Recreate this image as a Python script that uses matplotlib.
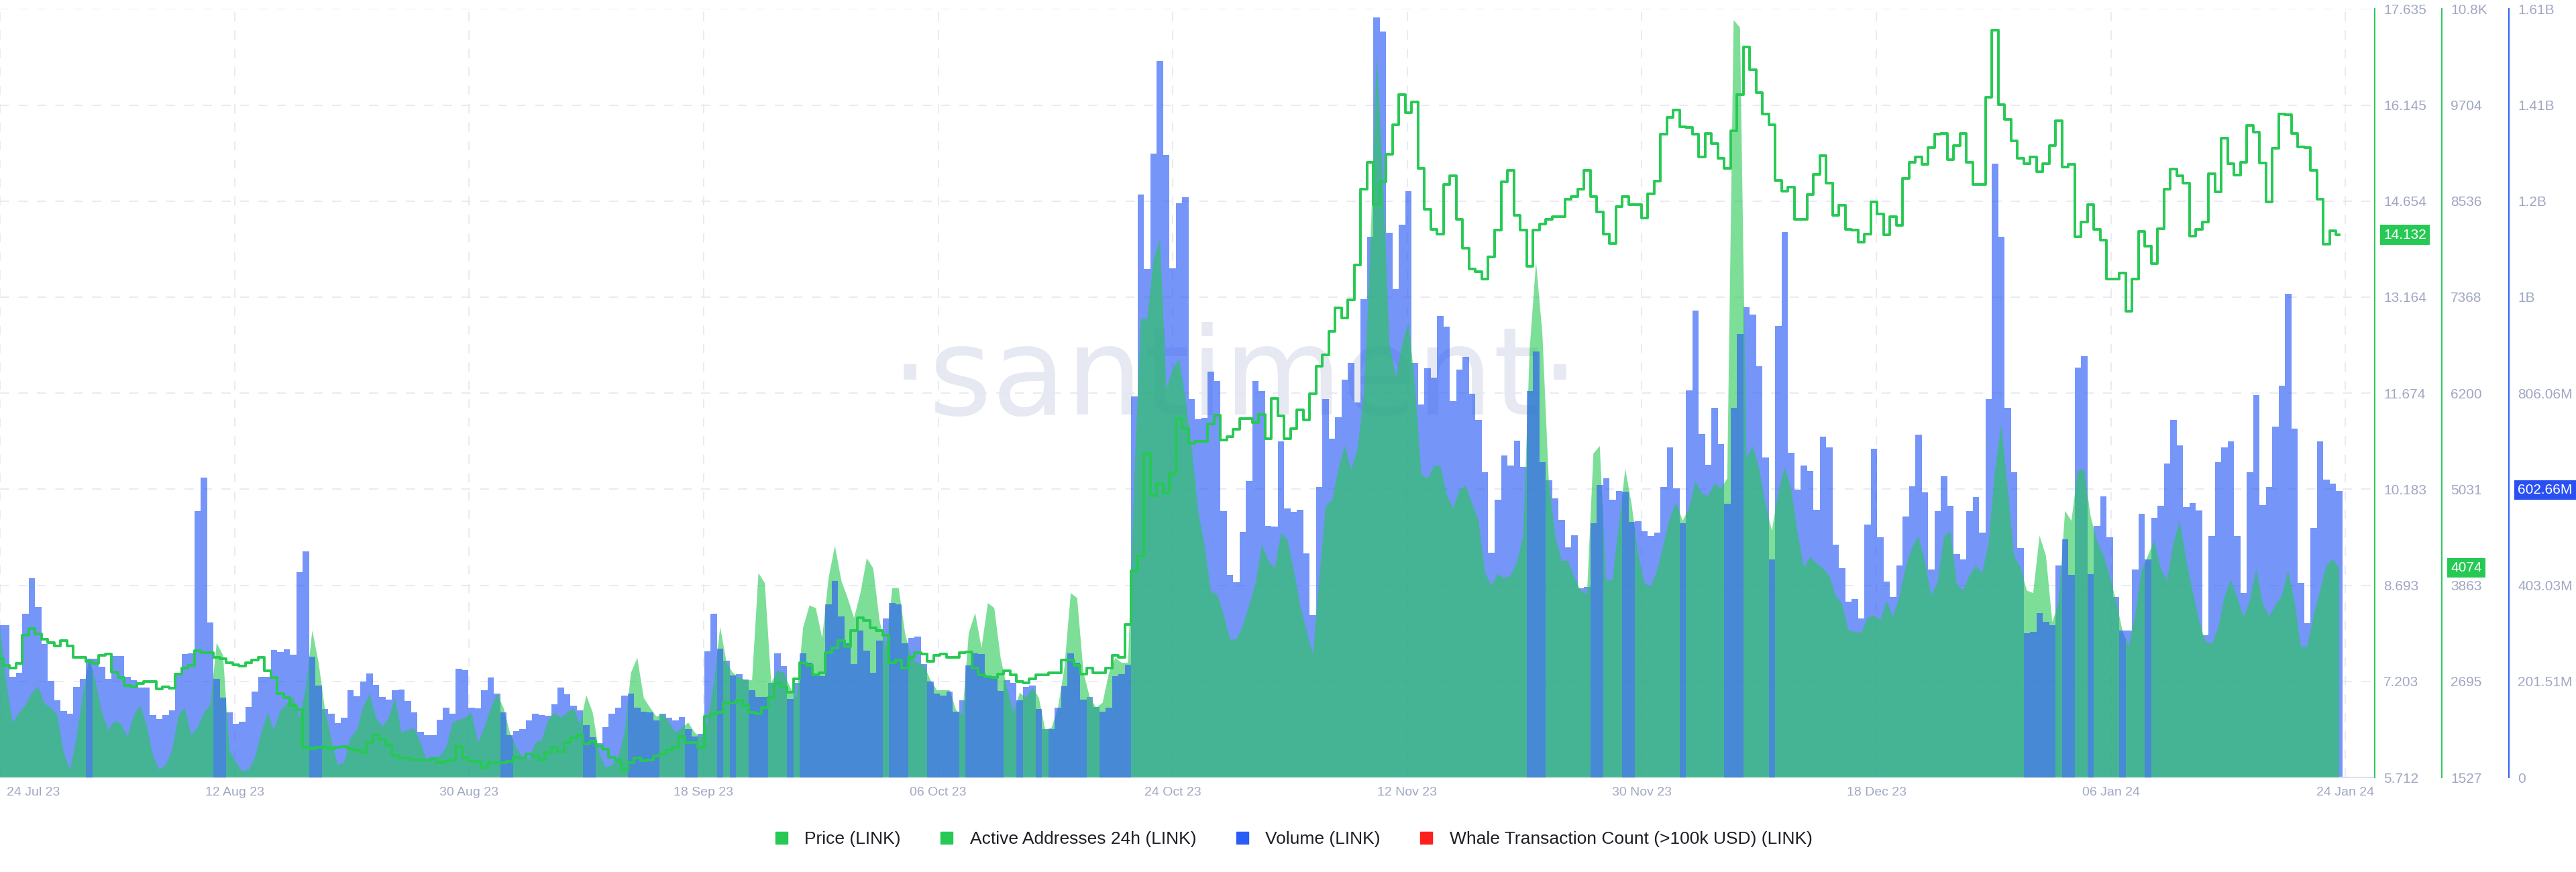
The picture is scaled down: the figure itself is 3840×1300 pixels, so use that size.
import numpy as np
import matplotlib.pyplot as plt
import matplotlib.transforms as mtransforms
from matplotlib.lines import Line2D

plt.rcParams['font.family'] = ['Liberation Sans', 'DejaVu Sans']

GREEN = '#26c953'
BLUE = '#2c5cf6'
RED = '#ff1f1f'
TICK_C = '#a0a8c2'
GRID_C = '#e3e6f0'

# 12h samples, starting 24 Jul 23 00:00
price = [
    7.55, 7.45, 7.41, 7.48, 7.92, 8.02, 7.94, 7.86, 7.80, 7.75, 7.83, 7.75, 7.58, 7.58, 7.51, 7.48,
    7.61, 7.63, 7.35, 7.26, 7.14, 7.12, 7.17, 7.20, 7.20, 7.09, 7.12, 7.10, 7.32, 7.41, 7.45, 7.68,
    7.65, 7.65, 7.57, 7.55, 7.49, 7.46, 7.44, 7.49, 7.53, 7.58, 7.37, 7.26, 7.01, 6.95, 6.83, 6.76,
    6.18, 6.16, 6.18, 6.18, 6.16, 6.18, 6.19, 6.16, 6.14, 6.10, 6.25, 6.37, 6.31, 6.21, 6.06,
    6.01, 6.01, 5.98, 5.98, 5.98, 6.00, 5.94, 5.96, 5.98, 6.19, 6.02, 5.96, 5.96, 5.87, 5.94, 5.94,
    5.94, 5.96, 6.02, 6.01, 6.08, 6.04, 5.98, 6.10, 6.18, 6.11, 6.25, 6.33, 6.37, 6.23, 6.27, 6.20,
    6.15, 6.02, 5.98, 5.83, 5.94, 6.01, 5.97, 5.98, 6.04, 6.08, 6.14, 6.18, 6.35, 6.25, 6.25, 6.18,
    6.66, 6.70, 6.72, 6.87, 6.87, 6.91, 6.83, 6.72, 6.70, 6.79, 6.95, 7.17, 7.12, 7.03,
    7.24, 7.49, 7.45, 7.30, 7.34, 7.65, 7.72, 7.84, 7.74, 7.99, 8.19, 8.15, 8.03, 7.99, 7.92, 7.49,
    7.53, 7.41, 7.57, 7.65, 7.63, 7.51, 7.61, 7.63, 7.58, 7.58, 7.65, 7.66, 7.41, 7.30, 7.27, 7.26,
    7.32, 7.37, 7.30, 7.20, 7.18, 7.24, 7.30, 7.30, 7.34, 7.34, 7.53, 7.53, 7.45, 7.32, 7.41, 7.34,
    7.34, 7.41, 7.61, 7.58, 8.09, 8.92, 9.15, 10.74, 10.08, 10.27, 10.12, 10.43, 11.28, 11.12,
    10.89, 10.93, 10.93, 11.20, 11.33, 10.95, 11.00, 11.11, 11.28, 11.28, 11.22, 11.34, 10.97, 11.59,
    11.32, 10.97, 11.12, 11.42, 11.26, 11.67, 12.09, 12.27, 12.63, 13.00, 12.84, 13.12, 13.66, 14.84,
    15.26, 14.60, 14.95, 15.38, 15.84, 16.31, 16.03, 16.19, 15.16, 14.53, 14.22, 14.14, 14.91, 15.05,
    14.37, 13.92, 13.60, 13.56, 13.44, 13.79, 14.20, 14.95, 15.13, 14.43, 14.20, 13.64, 14.20, 14.30,
    14.37, 14.41, 14.41, 14.68, 14.73, 14.84,
    15.13, 14.72, 14.49, 14.14, 14.00, 14.57, 14.73, 14.60, 14.60, 14.39, 14.77, 14.96, 15.69, 15.95,
    16.07, 15.81, 15.80, 15.69, 15.34, 15.70, 15.55, 15.32, 15.16, 15.75, 16.31, 17.05, 16.69, 16.34,
    16.00, 15.84, 14.98, 14.81, 14.87, 14.37, 14.37, 14.76, 15.07, 15.36, 14.93, 14.43, 14.59, 14.22,
    14.20, 14.02, 14.14, 14.64, 14.45, 14.13, 14.41, 14.28, 15.01, 15.26, 15.34, 15.22, 15.49, 15.69,
    15.70, 15.30, 15.52, 15.70, 15.26, 14.91,
    14.91, 16.27, 17.31, 16.15, 15.92, 15.59, 15.32, 15.24, 15.34, 15.11, 15.24, 15.52, 15.90, 15.18,
    15.22, 14.10, 14.33, 14.60, 14.22, 14.05, 13.44, 13.44, 13.54, 12.95, 13.44, 14.18, 13.95, 13.68,
    14.23, 14.84, 15.15, 15.05, 14.93, 14.11, 14.21, 14.33, 15.08, 14.80, 15.63, 15.24, 15.06, 15.26,
    15.83, 15.72, 15.25, 14.64, 15.47, 16.01, 15.99, 15.70, 15.50, 15.49, 15.13, 14.68, 13.99, 14.19,
    14.13,
]

active_addr = [
    3345, 2678, 2194, 2315, 2406, 2557, 2630, 2424, 2375, 2285, 1830, 1618, 2012, 2527, 2981, 2691,
    2315, 2103, 2212, 2181, 2024, 2285, 2406, 2163, 1800, 1618, 1679, 1860, 2285, 2375, 2042, 2133,
    2315, 2406, 3163, 3012, 1860, 1709, 1606, 1618, 1769, 2072, 2315, 2103, 2345, 2424, 2509, 2254,
    2618, 3315, 2921, 2345, 1982, 1679, 1709, 2012, 2103, 2388, 2545, 2254, 2145, 2254, 2497,
    2072, 2103, 2121, 1951, 1721, 1769, 1782, 1891, 2194, 2224, 2254, 2315, 1951, 2133, 2375, 2545,
    2375, 2072, 1891, 1769, 1739, 1951, 1982, 2224, 2315, 2254, 2315, 2375, 2163, 2527, 2315, 1830,
    1648, 1679, 1769, 2072, 2800, 2981, 2497, 2375, 2266, 2303, 2194, 2072, 2133, 2194, 2072, 2012,
    2194, 2678, 3357, 2921, 2800, 2739, 2709, 2709, 4012, 3890, 2678, 2830, 2800, 2618,
    2497, 3345, 3618, 3587, 3224, 3951, 4345, 3921, 3709, 3466, 3769, 4193, 4072, 3436, 3103, 3830,
    3830, 3284, 2981, 2921, 2891, 2709, 2588, 2588, 2588, 2345, 2285, 3284, 3527, 3103, 3648, 3587,
    2981, 2618, 2315, 2557, 2497, 2618, 2497, 2103, 2133, 2375, 2860, 3769, 3709, 2800, 2497, 2375,
    2436, 2800, 2981, 2921, 2921, 5224, 7102, 7102, 7829, 8072, 6254, 6496, 6617, 6133,
    5527, 4769, 4345, 3787, 3751, 3503, 3206, 3206, 3375, 3624, 3890, 4363, 4163, 4072, 4496, 4418,
    4048, 3618, 3321, 3018, 3951, 4830, 4896, 5284, 5563, 5266, 5527, 6193, 7951, 10314, 8799, 6799,
    6399, 6799, 7054, 6314, 5211, 5163, 5315, 5315, 4963, 4799, 5024, 5078, 4848, 4648, 4012, 3860,
    3999, 3951, 3981, 4145, 4466, 6739, 7799, 6920, 5133, 4466, 4163, 4163, 3963, 3800,
    3757, 5466, 5557, 3921, 3933, 4587, 5284, 4848, 4254, 3890, 3848, 4042, 4357, 4690, 4872, 4648,
    4799, 5133, 4981, 4951, 5102, 5042, 5163, 10738, 10647, 5405, 5557, 5284, 4848, 4527, 4993, 5302,
    5042, 4527, 4084, 4206, 4133, 4072, 3981, 3739, 3636, 3321, 3297, 3284, 3466, 3497, 3436, 3678,
    3478, 3721, 4084, 4327, 4460, 4163, 3739, 3903, 4448, 4527, 3878, 3800, 3981, 4103,
    4012, 4375, 5254, 5817, 5042, 4224, 4084, 3800, 3769, 4466, 4224, 3418, 3648, 4769, 4648, 5254,
    5272, 4709, 4406, 4236, 3981, 3678, 3315, 3115, 3497, 4042, 4224, 4406, 4072, 3921, 4375, 4648,
    4181, 3800, 3448, 3181, 3151, 3333, 3721, 3933, 3721, 3478, 3678, 4060, 3648, 3484, 3618, 3733,
    4042, 3666, 3115, 3115, 3497, 3793, 4103, 4181, 4074,
]

# volume in millions of USD
volume_m = [
    319, 319, 211, 219, 343, 418, 357, 280, 203, 162, 139, 133, 190, 207, 249, 249,
    232, 207, 255, 255, 211, 204, 188, 188, 131, 123, 131, 141, 219, 259, 261, 558,
    629, 325, 207, 167, 136, 113, 117, 148, 180, 211, 211, 268, 263, 269, 258, 430,
    474, 253, 193, 144, 134, 114, 125, 183, 170, 201, 218, 194, 169, 163, 183,
    184, 160, 136, 96, 88, 88, 121, 146, 133, 228, 225, 146, 145, 183, 209, 176,
    136, 89, 97, 102, 119, 134, 131, 130, 154, 188, 175, 150, 141, 110, 84, 72,
    105, 134, 146, 171, 176, 146, 138, 136, 120, 134, 125, 120, 127, 102, 86, 92,
    265, 343, 270, 245, 214, 217, 206, 183, 169, 169, 199, 261, 233, 165,
    199, 261, 240, 213, 213, 363, 412, 338, 282, 238, 308, 266, 219, 287, 334, 366,
    363, 282, 293, 296, 238, 201, 176, 172, 180, 138, 162, 235, 261, 259, 212, 207,
    182, 204, 199, 162, 190, 193, 144, 101, 102, 146, 191, 261, 240, 163, 169, 148,
    138, 146, 213, 217, 236, 800, 1223, 1066, 1309, 1503, 1306, 1068, 1204, 1217,
    794, 752, 754, 851, 831, 559, 425, 410, 515, 622, 831, 810, 528, 526, 705, 564,
    557, 562, 470, 340, 609, 794, 711, 756, 834, 869, 787, 1003, 1134, 1595, 1565, 1142,
    1024, 1160, 1230, 869, 782, 859, 838, 968, 946, 789, 855, 883, 805, 750, 640, 472,
    583, 676, 655, 707, 651, 810, 893, 661, 624, 585, 540, 483, 508, 397,
    399, 533, 613, 627, 582, 601, 599, 536, 538, 517, 507, 514, 609, 692, 606, 533,
    812, 980, 721, 656, 776, 700, 574, 776, 930, 986, 971, 863, 671, 458, 947, 1144,
    681, 603, 655, 643, 562, 715, 692, 488, 439, 368, 374, 334, 531, 690, 504, 411,
    378, 444, 547, 611, 719, 598, 436, 559, 632, 570, 468, 458, 559, 588,
    514, 794, 1287, 1134, 775, 640, 481, 303, 305, 345, 326, 319, 444, 500, 425, 860,
    884, 426, 528, 590, 504, 378, 308, 308, 436, 553, 458, 544, 570, 658, 750, 697,
    567, 575, 560, 298, 507, 661, 692, 705, 507, 387, 640, 802, 572, 609, 736, 822,
    1014, 732, 408, 324, 523, 705, 625, 617, 601,
]

date_labels = ['24 Jul 23', '12 Aug 23', '30 Aug 23', '18 Sep 23', '06 Oct 23', '24 Oct 23',
               '12 Nov 23', '30 Nov 23', '18 Dec 23', '06 Jan 24', '24 Jan 24']
price_ticks = [5.712, 7.203, 8.693, 10.183, 11.674, 13.164, 14.654, 16.145, 17.635]
price_labels = ['5.712', '7.203', '8.693', '10.183', '11.674', '13.164', '14.654', '16.145', '17.635']
addr_ticks = [1527, 2695, 3863, 5031, 6200, 7368, 8536, 9704, 10872]
addr_labels = ['1527', '2695', '3863', '5031', '6200', '7368', '8536', '9704', '10.8K']
vol_ticks = [0, 201.51, 403.03, 604.54, 806.06, 1007.6, 1209.1, 1410.6, 1612.1]
vol_labels = ['0', '201.51M', '403.03M', '604.54M', '806.06M', '1B', '1.2B', '1.41B', '1.61B']
legend_labels = ['Price (LINK)', 'Active Addresses 24h (LINK)', 'Volume (LINK)',
                 'Whale Transaction Count (>100k USD) (LINK)']

n = min(len(price), len(active_addr), len(volume_m))
price = np.array(price[:n])
active_addr = np.array(active_addr[:n])
volume_m = np.array(volume_m[:n])
t = np.arange(n) * 0.5
tick_days = np.arange(len(date_labels)) * 18.4

fig = plt.figure(figsize=(38.4, 13), dpi=100)
ax = fig.add_axes([0, 0.10846, 0.9219, 0.88123])
ax_a = ax.twinx()
ax_vt = ax.twinx()
ax_p = ax.twinx()
for i, a in enumerate([ax, ax_a, ax_vt, ax_p]):
    a.set_zorder(i + 1)
    for s in ['top', 'left', 'bottom', 'right']:
        a.spines[s].set_visible(False)

ax.set_xlim(0, 186.3)
ax.set_ylim(0, 1612.1)
ax_vt.set_ylim(0, 1612.1)
ax_a.set_ylim(1527, 10872)
ax_p.set_ylim(5.712, 17.635)

# bars hidden below the area when taller, drawn above it when shorter
vol_frac = volume_m / 1612.1
addr_frac = (active_addr - 1527) / (10872 - 1527)
on_top = vol_frac < addr_frac

# grid and watermark
for y in vol_ticks:
    ax.axhline(y, color=GRID_C, lw=1.1, ls=(0, (9, 9)), zorder=0.5)
for d in tick_days:
    ax.axvline(d, color=GRID_C, lw=1.1, ls=(0, (9, 9)), zorder=0.5)
ax.text(0.52, 0.516, '\u00b7santiment\u00b7', transform=ax.transAxes, ha='center', va='center',
        fontsize=130, color='#e6e8f2', family='DejaVu Sans', zorder=0.2)

ax.bar(t, np.where(on_top, 0, volume_m), width=0.5, color=BLUE, alpha=0.65, linewidth=0)
ax_a.fill_between(t, 0, active_addr, color=GREEN, alpha=0.6, linewidth=0)
ax_vt.bar(t, np.where(on_top, volume_m, 0), width=0.5, color=BLUE, alpha=0.65, linewidth=0)
ax_p.step(t, price, where='mid', color=GREEN, lw=2.8)

# x axis
ax.spines['bottom'].set_visible(True)
ax.spines['bottom'].set_color('#dde3ee')
ax.spines['bottom'].set_linewidth(1.5)
ax.set_xticks(tick_days)
ax.set_xticklabels(date_labels)
ax.tick_params(axis='x', length=0, pad=10, labelsize=14, labelcolor=TICK_C)
first = ax.get_xticklabels()[0]
first.set_horizontalalignment('left')
first.set_transform(first.get_transform() + mtransforms.ScaledTranslation(0.1, 0, fig.dpi_scale_trans))

# right-hand axes
def style_right(a, pos, color, ticks, labels):
    a.yaxis.set_ticks_position('right')
    a.spines['right'].set_visible(True)
    a.spines['right'].set_position(('axes', pos))
    a.spines['right'].set_color(color)
    a.spines['right'].set_linewidth(1.4)
    a.set_yticks(ticks)
    a.set_yticklabels(labels)
    a.tick_params(axis='y', length=0, pad=9.4, labelsize=15, labelcolor=TICK_C)

style_right(ax_p, 1.0, GREEN, price_ticks, price_labels)
style_right(ax_a, 1.02825, GREEN, addr_ticks, addr_labels)
style_right(ax, 1.0565, BLUE, vol_ticks, vol_labels)
ax_vt.set_yticks([])

# last-value badges
def badge(a, xpos, y, text, color):
    a.annotate(text, xy=(xpos, y), xycoords=a.get_yaxis_transform(), xytext=(9.4, 0),
               textcoords='offset points', ha='left', va='center', fontsize=15, color='white',
               bbox=dict(boxstyle='square,pad=0.25', fc=color, ec='none'),
               annotation_clip=False, zorder=10)

badge(ax_p, 1.0, price[-1], '14.132', GREEN)
badge(ax_a, 1.02825, active_addr[-1], '4074', GREEN)
badge(ax, 1.0565, 602.66, '602.66M', '#2a50f3')

# legend
handles = [Line2D([], [], marker='s', ls='none', color=c, markersize=13)
           for c in [GREEN, GREEN, BLUE, RED]]
fig.legend(handles, legend_labels, loc='center', bbox_to_anchor=(0.5, 0.0377), ncol=4,
           frameon=False, fontsize=19, handletextpad=0.3, columnspacing=1.6,
           labelcolor='#1d1f26')

fig.savefig('out.png', dpi=100)
